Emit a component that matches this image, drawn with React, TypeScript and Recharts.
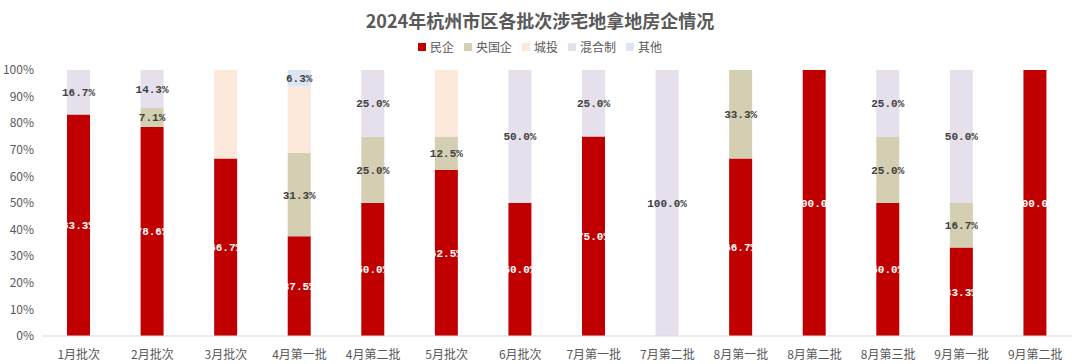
import { Bar, BarChart, LabelList, XAxis, YAxis } from "recharts";

// Page margin off so the chart sits at 0,0 like the reference.
if (typeof document !== "undefined") {
  document.body.style.margin = "0";
}

const batches = [
  "1月批次",
  "2月批次",
  "3月批次",
  "4月第一批",
  "4月第二批",
  "5月批次",
  "6月批次",
  "7月第一批",
  "7月第二批",
  "8月第一批",
  "8月第二批",
  "8月第三批",
  "9月第一批",
  "9月第二批",
];

const privateShare = [83.3, 78.6, 66.7, 37.5, 50.0, 62.5, 50.0, 75.0, 0, 66.7, 100, 50.0, 33.3, 100];
const stateShare = [0, 7.1, 0, 31.3, 25.0, 12.5, 0, 0, 0, 33.3, 0, 25.0, 16.7, 0];
const urbanShare = [0, 0, 33.3, 25.0, 0, 25.0, 0, 0, 0, 0, 0, 0, 0, 0];
const mixedShare = [16.7, 14.3, 0, 0, 25.0, 0, 50.0, 25.0, 100, 0, 0, 25.0, 50.0, 0];
const otherShare = [0, 0, 0, 6.3, 0, 0, 0, 0, 0, 0, 0, 0, 0, 0];

const seriesNames = ["民企", "央国企", "城投", "混合制", "其他"];
const seriesColors = ["#c00000", "#d4cfb2", "#fde9db", "#e6e0ec", "#dce6f2"];

const yTicks = [0, 10, 20, 30, 40, 50, 60, 70, 80, 90, 100];

const data = batches.map((batch, i) => ({
  batch,
  民企: privateShare[i],
  央国企: stateShare[i],
  城投: urbanShare[i],
  混合制: mixedShare[i],
  其他: otherShare[i],
}));

const labelFont = "'Liberation Mono', 'DejaVu Sans Mono', monospace";
const axisFont = "'Noto Sans CJK SC', 'Noto Sans', sans-serif";

function formatShare(value: unknown): string {
  const n = Number(value);
  if (!Number.isFinite(n) || n <= 0) {
    return "";
  }
  return `${n.toFixed(1)}%`;
}

const darkLabel = { fill: "#404040", fontSize: 11, fontWeight: 700, fontFamily: labelFont };

export default function App() {
  return (
    <div style={{ position: "relative", width: 1080, height: 364, background: "#ffffff", fontFamily: axisFont }}>
      <div
        style={{
          position: "absolute",
          top: 8,
          left: 0,
          width: 1080,
          textAlign: "center",
          fontSize: 18,
          fontWeight: 700,
          color: "#595959",
          lineHeight: "24px",
        }}
      >
        2024年杭州市区各批次涉宅地拿地房企情况
      </div>
      {/* Légende maison: la Legend de Recharts réserve de la hauteur et trie les items */}
      <div
        style={{
          position: "absolute",
          top: 38,
          left: 0,
          width: 1080,
          display: "flex",
          justifyContent: "center",
          gap: 10,
          fontSize: 12,
          lineHeight: "18px",
          color: "#595959",
        }}
      >
        {seriesNames.map((name, i) => (
          <span key={name} style={{ display: "inline-flex", alignItems: "center", gap: 4 }}>
            <span style={{ display: "inline-block", width: 8, height: 8, background: seriesColors[i] }} />
            {name}
          </span>
        ))}
      </div>
      <BarChart width={1080} height={364} data={data} margin={{ top: 70, right: 8, left: 0, bottom: 0 }} barSize={23}>
        <XAxis
          dataKey="batch"
          height={28}
          interval={0}
          tickLine={false}
          axisLine={{ stroke: "#d9d9d9" }}
          tick={{ fill: "#595959", fontSize: 12, fontFamily: axisFont }}
          tickMargin={8}
        />
        <YAxis
          width={42}
          domain={[0, 100]}
          ticks={yTicks}
          allowDataOverflow
          axisLine={false}
          tickLine={false}
          tickSize={0}
          tickMargin={8}
          tick={{ fill: "#595959", fontSize: 12, fontFamily: axisFont }}
          tickFormatter={(v) => `${v}%`}
        />
        <Bar dataKey="民企" stackId="a" fill={seriesColors[0]} isAnimationActive={false}>
          <LabelList
            dataKey="民企"
            position="center"
            formatter={formatShare}
            style={{ fill: "#ffffff", fontSize: 11, fontWeight: 700, fontFamily: labelFont }}
          />
        </Bar>
        <Bar dataKey="央国企" stackId="a" fill={seriesColors[1]} isAnimationActive={false}>
          <LabelList dataKey="央国企" position="center" formatter={formatShare} style={darkLabel} />
        </Bar>
        <Bar dataKey="城投" stackId="a" fill={seriesColors[2]} isAnimationActive={false} />
        <Bar dataKey="混合制" stackId="a" fill={seriesColors[3]} isAnimationActive={false}>
          <LabelList dataKey="混合制" position="center" formatter={formatShare} style={darkLabel} />
        </Bar>
        <Bar dataKey="其他" stackId="a" fill={seriesColors[4]} isAnimationActive={false}>
          <LabelList dataKey="其他" position="center" formatter={formatShare} style={darkLabel} />
        </Bar>
      </BarChart>
    </div>
  );
}
